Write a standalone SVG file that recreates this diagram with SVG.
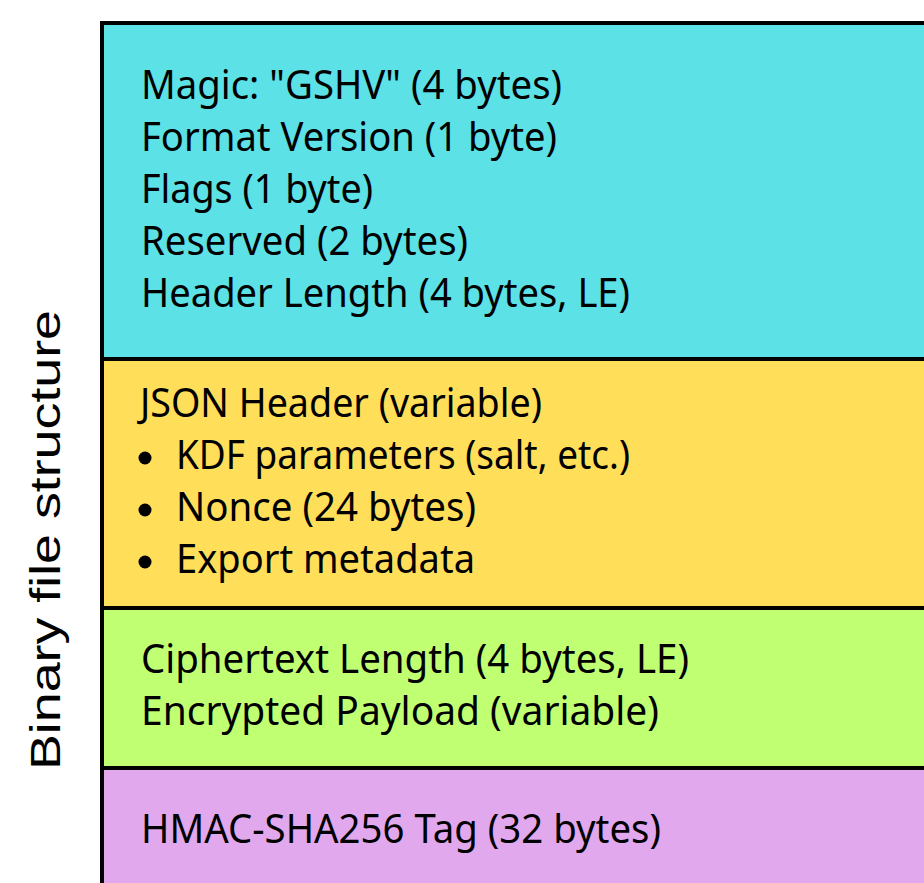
<svg xmlns="http://www.w3.org/2000/svg" width="924" height="883" viewBox="0 0 924 883">
  <style>
    .band { stroke: #000; stroke-width: 4; }
    .t { font-family: "Noto Sans", "Open Sans", sans-serif; font-size: 40px; fill: #000; }
    .side { font-family: "Liberation Sans", Arial, sans-serif; font-size: 42px; fill: #000; }
  </style>
  <rect width="924" height="883" fill="#fff"/>

  <!-- side caption -->
  <text class="side" transform="translate(60,540) rotate(-90)" text-anchor="middle" textLength="460" lengthAdjust="spacingAndGlyphs">Binary file structure</text>

  <!-- fixed header -->
  <g id="fixed-header">
    <rect class="band" x="102" y="23" width="900" height="336" fill="#5CE1E6"/>
    <text class="t" x="141" y="99" textLength="421" lengthAdjust="spacingAndGlyphs">Magic: "GSHV" (4 bytes)</text>
    <text class="t" x="141" y="151" textLength="416" lengthAdjust="spacingAndGlyphs">Format Version (1 byte)</text>
    <text class="t" x="141" y="203" textLength="232" lengthAdjust="spacingAndGlyphs">Flags (1 byte)</text>
    <text class="t" x="141" y="255" textLength="327" lengthAdjust="spacingAndGlyphs">Reserved (2 bytes)</text>
    <text class="t" x="141" y="307" textLength="489" lengthAdjust="spacingAndGlyphs">Header Length (4 bytes, LE)</text>
  </g>

  <!-- JSON header -->
  <g id="json-header">
    <rect class="band" x="102" y="359" width="900" height="249" fill="#FFDE59"/>
    <text class="t" x="140" y="417" textLength="402" lengthAdjust="spacingAndGlyphs">JSON Header (variable)</text>
    <circle cx="145" cy="458" r="6.5"/>
    <text class="t" x="176" y="469" textLength="454" lengthAdjust="spacingAndGlyphs">KDF parameters (salt, etc.)</text>
    <circle cx="145" cy="510" r="6.5"/>
    <text class="t" x="176" y="521" textLength="300" lengthAdjust="spacingAndGlyphs">Nonce (24 bytes)</text>
    <circle cx="145" cy="562" r="6.5"/>
    <text class="t" x="176" y="573" textLength="299" lengthAdjust="spacingAndGlyphs">Export metadata</text>
  </g>

  <!-- encrypted payload -->
  <g id="payload">
    <rect class="band" x="102" y="608" width="900" height="160" fill="#C1FF72"/>
    <text class="t" x="141" y="673" textLength="548" lengthAdjust="spacingAndGlyphs">Ciphertext Length (4 bytes, LE)</text>
    <text class="t" x="141" y="725" textLength="518" lengthAdjust="spacingAndGlyphs">Encrypted Payload (variable)</text>
  </g>

  <!-- authentication tag -->
  <g id="hmac-tag">
    <rect class="band" x="102" y="768" width="900" height="200" fill="#E2A8EE"/>
    <text class="t" x="141" y="843" textLength="520" lengthAdjust="spacingAndGlyphs">HMAC-SHA256 Tag (32 bytes)</text>
  </g>
</svg>
